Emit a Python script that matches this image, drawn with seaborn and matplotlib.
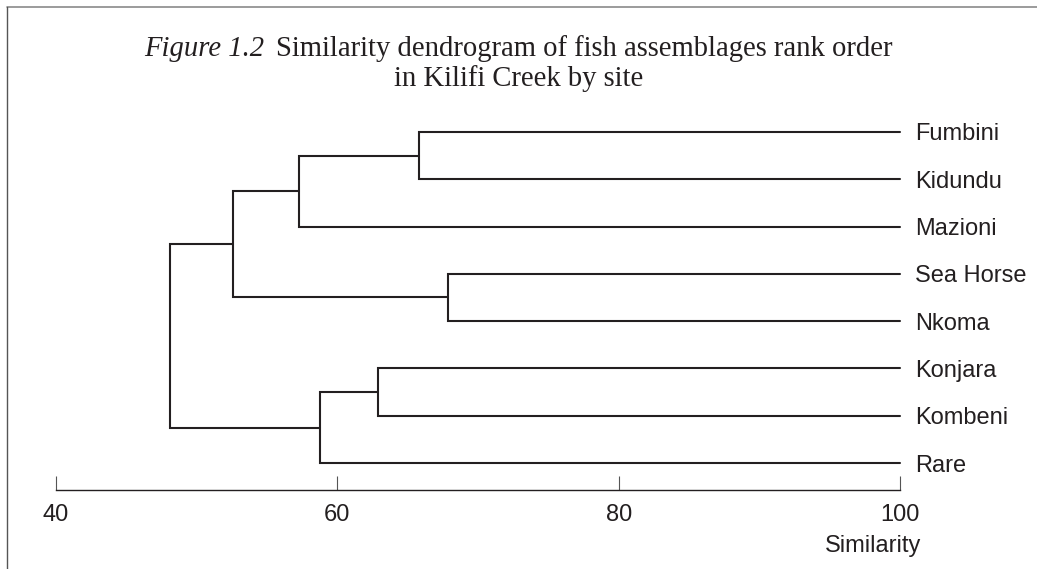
import matplotlib
matplotlib.use("Agg")
import matplotlib.pyplot as plt
import seaborn as sns
import pandas as pd
from matplotlib.lines import Line2D

# site order top to bottom
sites = ["Fumbini", "Kidundu", "Mazioni", "Sea Horse", "Nkoma",
         "Konjara", "Kombeni", "Rare"]

# merges: (child a, child b, similarity); ids >= 8 are earlier merges
merge_a = [0, 8, 3, 9, 5, 12, 11]
merge_b = [1, 2, 4, 10, 6, 7, 13]
merge_sim = [65.8, 57.3, 67.9, 52.6, 62.9, 58.8, 48.1]

ticks = [40, 60, 80, 100]

W, H = 1037, 569
INK = "#231f20"

sns.set_theme(style="white")
plt.rcParams["font.family"] = ["Liberation Sans", "DejaVu Sans"]

# build link paths from the merge table
n = len(sites)
ypos = {i: n - 1 - i for i in range(n)}
height = {i: 100.0 for i in range(n)}
rows = []
for k, (a, b, s) in enumerate(zip(merge_a, merge_b, merge_sim)):
    node = n + k
    pts = [(height[a], ypos[a]), (s, ypos[a]), (s, ypos[b]), (height[b], ypos[b])]
    for j, (x, y) in enumerate(pts):
        rows.append({"link": k, "order": j, "sim": x, "y": y})
    ypos[node] = (ypos[a] + ypos[b]) / 2
    height[node] = s
links = pd.DataFrame(rows)

fig = plt.figure(figsize=(W / 100, H / 100), dpi=100)
fig.patch.set_facecolor("white")

ax_bottom_px = 490
unit_px = 47.3
ylo, yhi = -27 / unit_px, 7.4
ax = fig.add_axes([56 / W, 1 - ax_bottom_px / H, 844 / W, (yhi - ylo) * unit_px / H])
ax.set_facecolor("none")

sns.lineplot(data=links, x="sim", y="y", units="link", estimator=None,
             sort=False, color=INK, linewidth=1.5, ax=ax, legend=False)
for ln in ax.lines:
    ln.set_clip_on(False)
    ln.set_solid_joinstyle("miter")

ax.set_xlim(40, 100)
ax.set_ylim(ylo, yhi)
ax.set_xlabel("")
ax.set_ylabel("")
for side in ["top", "right", "left"]:
    ax.spines[side].set_visible(False)
ax.spines["bottom"].set_color(INK)
ax.spines["bottom"].set_linewidth(1.0)

ax.set_xticks(ticks)
ax.set_xticklabels([str(t) for t in ticks])
ax.tick_params(axis="x", direction="in", length=10, width=0.8, color="#555555",
               pad=10, labelsize=17, labelcolor=INK, bottom=True)

ax.yaxis.tick_right()
ax.set_yticks([n - 1 - i for i in range(n)])
ax.set_yticklabels(sites)
ax.tick_params(axis="y", length=0, pad=11, labelsize=17, labelcolor=INK, right=True)

fig.text(921 / W, 1 - 546 / H, "Similarity", ha="right", va="center",
         fontsize=17, color=INK)

# title: italic figure number plus roman caption, centred on the figure
serif = ["Liberation Serif", "DejaVu Serif"]
r = fig.canvas.get_renderer()
t1 = fig.text(0, 1 - 56 / H, "Figure 1.2", family=serif, style="italic",
              fontsize=20.6, color=INK, va="baseline")
t2 = fig.text(0, 1 - 56 / H, "Similarity dendrogram of fish assemblages rank order",
              family=serif, fontsize=20.6, color=INK, va="baseline")
gap = 12
w1 = t1.get_window_extent(r).width
w2 = t2.get_window_extent(r).width
x0 = (W - (w1 + gap + w2)) / 2
t1.set_x(x0 / W)
t2.set_x((x0 + w1 + gap) / W)
fig.text(0.5, 1 - 86 / H, "in Kilifi Creek by site", family=serif, fontsize=20.6,
         color=INK, ha="center", va="baseline")

# partial frame: top and left border
fig.add_artist(Line2D([7 / W, 1], [1 - 7 / H, 1 - 7 / H], transform=fig.transFigure,
                      color="#8a8a8a", linewidth=1.2))
fig.add_artist(Line2D([7 / W, 7 / W], [0, 1 - 7 / H], transform=fig.transFigure,
                      color="#555555", linewidth=1.0))

fig.savefig("out.png", dpi=100, facecolor="white")
